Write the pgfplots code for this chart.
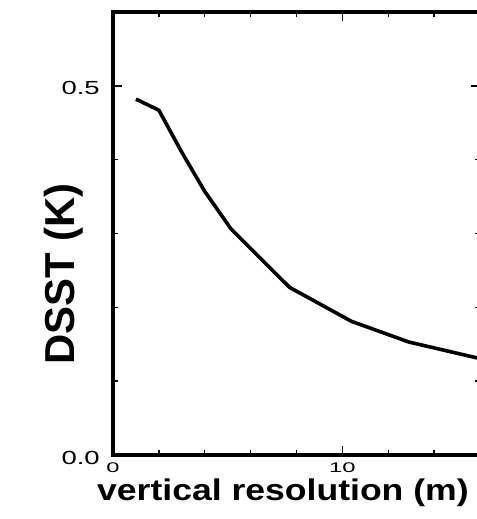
\documentclass[border=0pt]{standalone}
\usepackage{fontspec}
\setmainfont{Liberation Sans}
\usepackage{pgfplots}
\pgfplotsset{compat=1.18}
\begin{document}
\begin{tikzpicture}
\useasboundingbox (-113bp,-64bp) rectangle (364bp,455bp);
\clip (-113bp,-64bp) rectangle (364bp,455bp);
\begin{axis}[
  at={(0bp,0bp)}, anchor=south west,
  scale only axis, width=367bp, height=443bp,
  xmin=0, xmax=16, ymin=0, ymax=0.6,
  xtick={0,10}, minor xtick={2,4,6,8,12,14},
  ytick={0,0.5}, minor ytick={0.1,0.2,0.3,0.4},
  /pgf/number format/assume math mode=true,
  yticklabel={\fontsize{19}{20}\selectfont\pgfmathprintnumber[fixed,fixed zerofill,precision=1]{\tick}},
  xticklabel={\fontsize{14}{15}\selectfont\pgfmathprintnumber{\tick}},
  yticklabel style={anchor=east, inner sep=0pt, xshift=-13bp, yshift=-2.5bp, xscale=1.45},
  xticklabel style={anchor=north, inner sep=0pt, yshift=-8bp, xscale=1.7},
  tick align=inside,
  major tick length=9bp, minor tick length=5bp,
  every tick/.style={line width=1.4bp, black},
  axis line style={line width=3.5bp},
  xlabel={vertical resolution (m)},
  ylabel={DSST (K)},
  xlabel style={font=\fontsize{30}{36}\selectfont\bfseries, at={(axis description cs:0.463,0)}, anchor=base, yshift=-45bp, xscale=1.19},
  ylabel style={font=\fontsize{42}{48}\selectfont\bfseries, at={(axis description cs:0,0.409)}, anchor=center, yshift=49bp},
]
\addplot[black, line width=3.6bp, line join=round] coordinates {
  (1.0,0.482) (2.0,0.467) (3.0,0.410) (4.0,0.357) (5.15,0.306)
  (7.7,0.227) (10.4,0.181) (12.9,0.153) (15.8,0.132) (16.2,0.129)
};
\end{axis}
\end{tikzpicture}
\end{document}
